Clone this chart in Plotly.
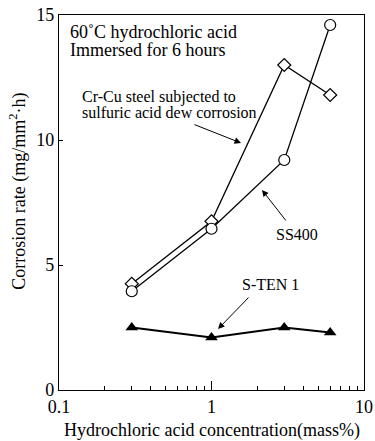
import math
import plotly.graph_objects as go

conc = [0.3, 1, 3, 6]
ss400 = [3.95, 6.45, 9.2, 14.6]
crcu = [4.25, 6.75, 13.0, 11.8]
sten = [2.5, 2.1, 2.5, 2.3]

FONT = "Liberation Serif"
fig = go.Figure()
fig.add_trace(go.Scatter(x=conc, y=crcu, mode="lines+markers",
                         line=dict(color="black", width=1.3),
                         marker=dict(symbol="diamond", size=10, color="white",
                                     line=dict(color="black", width=1.2))))
fig.add_trace(go.Scatter(x=conc, y=ss400, mode="lines+markers",
                         line=dict(color="black", width=1.3),
                         marker=dict(symbol="circle", size=11, color="white",
                                     line=dict(color="black", width=1.2))))
fig.add_trace(go.Scatter(x=conc, y=sten, mode="lines+markers",
                         line=dict(color="black", width=2),
                         marker=dict(symbol="triangle-up", size=11, color="black")))

minor = [0.2, 0.3, 0.4, 0.5, 0.6, 0.7, 0.8, 0.9, 2, 3, 4, 5, 6, 7, 8, 9]
fig.update_xaxes(type="log", range=[-1, 1], tickvals=[0.1, 1, 10], ticktext=["0.1", "1", "10"],
                 ticks="inside", ticklen=9, tickwidth=1, tickcolor="black",
                 minor=dict(tickvals=minor, ticks="inside", ticklen=4, tickwidth=1, tickcolor="black"),
                 showline=True, mirror=True, linecolor="black", linewidth=1.3,
                 showgrid=False, zeroline=False, automargin=False,
                 tickfont=dict(family=FONT, size=18, color="black"))
fig.update_yaxes(range=[0, 15], tickvals=[0, 5, 10, 15], ticks="inside", ticklen=4,
                 tickwidth=1, tickcolor="black",
                 showline=True, mirror=True, linecolor="black", linewidth=1.3,
                 showgrid=False, zeroline=False, automargin=False,
                 tickfont=dict(family=FONT, size=18, color="black"))

def L(v):
    return math.log10(v)

ann = []
def txt(t, x, y, size, xanchor="left", angle=0):
    ann.append(dict(text=t, x=x, y=y, xref="paper", yref="paper", showarrow=False,
                    xanchor=xanchor, yanchor="middle", textangle=angle,
                    font=dict(family=FONT, size=size, color="black")))

txt("60˚C hydrochloric acid", 0.0295, 0.955, 18)
txt("Immersed for 6 hours", 0.0295, 0.906, 18)
txt("Cr-Cu steel subjected to", 0.0689, 0.781, 16)
txt("sulfuric acid dew corrosion", 0.0689, 0.741, 16)
txt("SS400", 0.779, 0.415, 16, "center")
txt("S-TEN 1", 0.692, 0.281, 16, "center")
txt("Hydrochloric acid concentration(mass%)", 0.5, -0.109, 18, "center")
txt("Corrosion rate (mg/mm<sup>2</sup>·h)", -0.134, 0.529, 18, "center", -90)

arrows = [((1.561, 9.88), (0.756, 10.64)),
          ((2.144, 8.0), (3.127, 6.72)),
          ((1.103, 2.44), (1.789, 3.76))]
for (hx, hy), (tx, ty) in arrows:
    ann.append(dict(text="", x=L(hx), y=hy, ax=L(tx), ay=ty, xref="x", yref="y",
                    axref="x", ayref="y", showarrow=True, arrowhead=2, arrowsize=1.3,
                    arrowwidth=1, arrowcolor="black"))

fig.update_layout(width=375, height=441, margin=dict(l=59, r=11, t=15, b=51),
                  paper_bgcolor="white", plot_bgcolor="white", showlegend=False,
                  annotations=ann, font=dict(family=FONT, color="black"))
fig.write_html("out.html")
